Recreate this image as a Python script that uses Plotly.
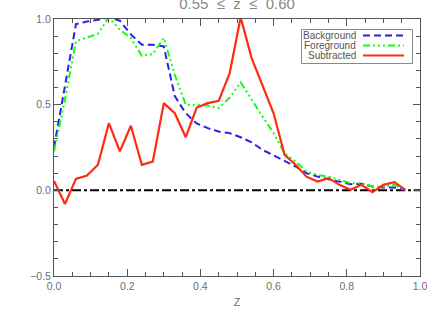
import plotly.graph_objects as go

x_vals = [round(0.03 * i, 2) for i in range(33)]
background = [0.25, 0.60, 0.97, 0.985, 0.995, 1.01, 0.99, 0.91, 0.85, 0.85, 0.84, 0.55,
              0.45, 0.39, 0.363, 0.343, 0.334, 0.31, 0.28, 0.236, 0.203, 0.168, 0.139,
              0.10, 0.08, 0.065, 0.051, 0.036, 0.038, 0.022, 0.016, 0.016, 0.0]
foreground = [0.226, 0.53, 0.87, 0.89, 0.914, 1.01, 0.937, 0.89, 0.785, 0.795, 0.89, 0.674,
              0.50, 0.50, 0.495, 0.48, 0.54, 0.63, 0.528, 0.43, 0.334, 0.217, 0.168,
              0.11, 0.09, 0.08, 0.061, 0.042, 0.042, 0.022, 0.022, 0.032, 0.0]
subtracted = [0.055, -0.08, 0.067, 0.086, 0.149, 0.392, 0.227, 0.377, 0.149, 0.168, 0.509, 0.45,
              0.31, 0.483, 0.509, 0.522, 0.684, 1.01, 0.772, 0.616, 0.45, 0.207, 0.149,
              0.08, 0.051, 0.071, 0.032, 0.003, 0.032, -0.011, 0.032, 0.048, 0.003]
series_names = ["Background", "Foreground", "Subtracted"]
title_text = "0.55  \u2264  z  \u2264  0.60"
x_title = "Z"

BLUE = "#2a1fe6"
GREEN = "#11ff11"
RED = "#ff2a10"
GREEN_DASH = "7px,3px,2px,3px,2px,3px,2px,3px"
BLUE_DASH = "7px,4px"
GREY = "#6e6e6e"
FONT = "Liberation Sans"

fig = go.Figure()
fig.add_trace(go.Scatter(x=[0, 1], y=[0, 0], mode="lines",
                         line=dict(color="black", width=2, dash="dashdot"), showlegend=False))
fig.add_trace(go.Scatter(x=x_vals, y=background, mode="lines", name=series_names[0],
                         line=dict(color=BLUE, width=2, dash=BLUE_DASH), showlegend=False))
fig.add_trace(go.Scatter(x=x_vals, y=foreground, mode="lines", name=series_names[1],
                         line=dict(color=GREEN, width=2, dash=GREEN_DASH), showlegend=False))
fig.add_trace(go.Scatter(x=x_vals, y=subtracted, mode="lines", name=series_names[2],
                         line=dict(color=RED, width=2.2), showlegend=False))

# custom legend (text left, line sample right)
W, H = 436, 312
ml, mr, mt, mb = 54, 16, 19, 36
pw, ph = W - ml - mr, H - mt - mb
def px(xp):
    return (xp - ml) / pw
def py(yp):
    return 1 - (yp - mt) / ph

fig.add_shape(type="rect", xref="paper", yref="paper",
              x0=px(301.5), x1=px(412.5), y0=py(63.5), y1=py(29.5),
              line=dict(color="#888888", width=1), fillcolor="white", layer="above")
rows = [35.5, 45.5, 55.5]
styles = [dict(color=BLUE, width=2, dash=BLUE_DASH),
          dict(color=GREEN, width=2, dash=GREEN_DASH),
          dict(color=RED, width=2.2)]
for name, yr, st in zip(series_names, rows, styles):
    fig.add_annotation(x=px(357), y=py(yr), xref="paper", yref="paper", text=name,
                       showarrow=False, xanchor="right", yanchor="middle", borderpad=0,
                       font=dict(family=FONT, size=10, color="#555555"))
    fig.add_shape(type="line", xref="paper", yref="paper",
                  x0=px(363), x1=px(404), y0=py(yr), y1=py(yr), line=st, layer="above")

axis_common = dict(showgrid=False, zeroline=False, showline=True, linecolor="#555555",
                   linewidth=1, mirror="ticks", ticks="inside", tickcolor="#555555",
                   automargin=False,
                   tickfont=dict(family=FONT, size=10.5, color=GREY))
fig.update_xaxes(range=[0, 1], dtick=0.2, ticklen=7, tickformat=".1f",
                 minor=dict(dtick=0.05, ticklen=4, ticks="inside", tickcolor="#555555"),
                 title=dict(text=x_title, font=dict(family=FONT, size=10.5, color=GREY), standoff=8),
                 **axis_common)
fig.update_yaxes(range=[-0.5, 1.0], dtick=0.5, ticklen=7, tickformat=".1f",
                 minor=dict(dtick=0.1, ticklen=4, ticks="inside", tickcolor="#555555"),
                 **axis_common)

fig.update_layout(
    width=W, height=H,
    margin=dict(l=ml, r=mr, t=mt, b=mb),
    paper_bgcolor="white", plot_bgcolor="white",
    title=dict(text=title_text, x=(ml + pw / 2) / W, xanchor="center",
               y=1 - 4 / H, yanchor="middle", yref="container",
               font=dict(family=FONT, size=15, color="#888888")),
    font=dict(family=FONT),
)
fig.write_html("out.html", config={"displayModeBar": False},
               post_script="document.body.style.margin='0';")
